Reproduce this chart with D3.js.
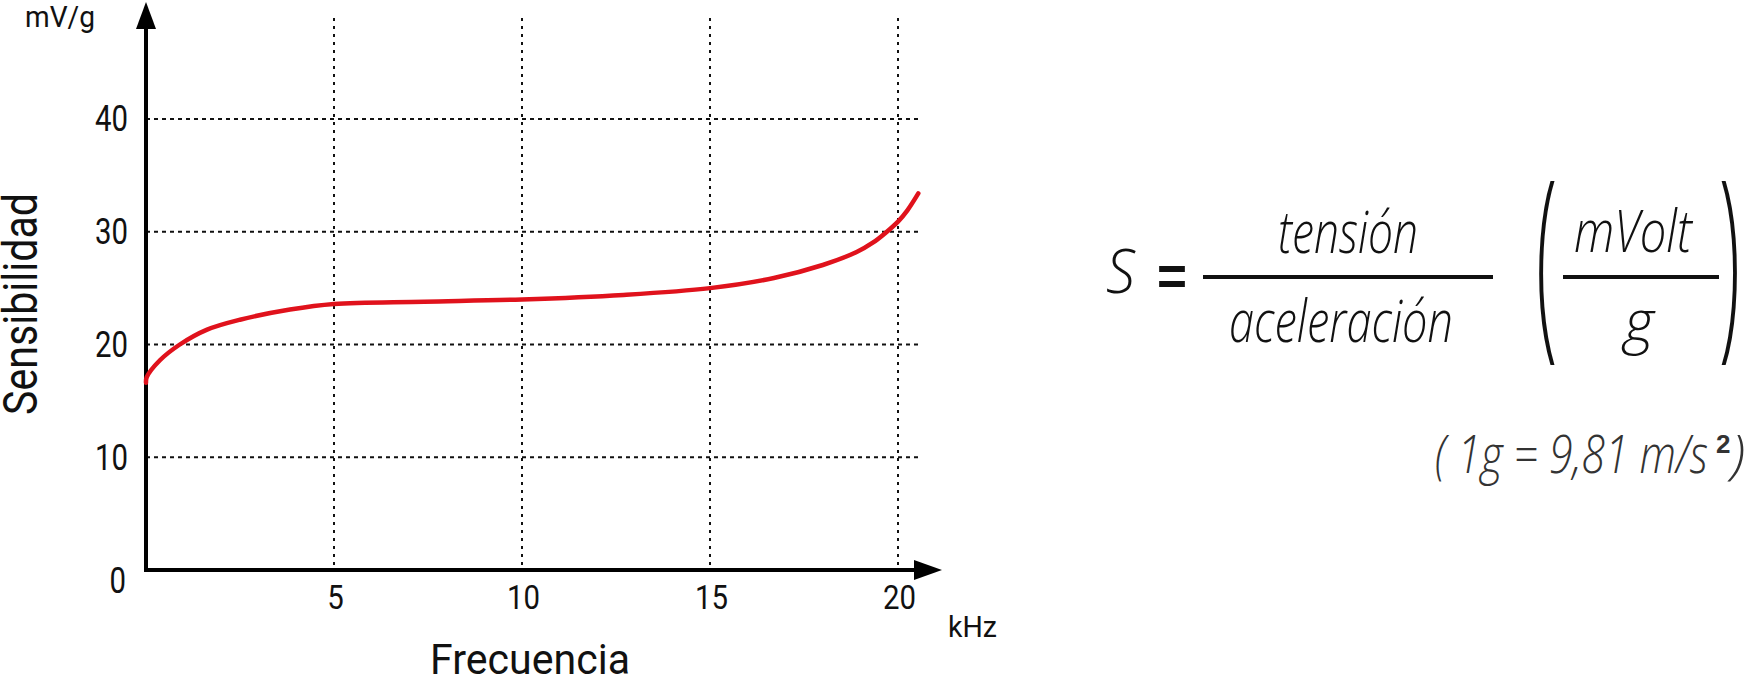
<!DOCTYPE html>
<html>
<head>
<meta charset="utf-8">
<script src="https://cdn.jsdelivr.net/npm/d3@7"></script>
<style>
  html, body { margin: 0; padding: 0; background: #fff; }
  svg { display: block; }
</style>
</head>
<body>
<svg id="chart" width="1746" height="680"></svg>
<script>
// ---- data ----
const freqKHz = [0, 0.02, 0.37, 0.9, 1.61, 2.5, 3.83, 5, 7.4, 10, 12.7, 15, 16.7, 18, 18.9, 19.34, 19.65, 20, 20.25, 20.54];
const sensitivity = [16.6, 17.1, 18.6, 20.0, 21.3, 22.2, 23.1, 23.6, 23.8, 24.0, 24.4, 25.0, 25.9, 27.05, 28.2, 29.05, 29.85, 30.9, 31.9, 33.4];
const xTicks = [5, 10, 15, 20];
const yTicks = [0, 10, 20, 30, 40];
const xGrid = [5, 10, 15, 20];
const yGrid = [10, 20, 30, 40];
const labels = { yUnit: "mV/g", xUnit: "kHz", yTitle: "Sensibilidad", xTitle: "Frecuencia" };
const formula = { lhs: "S", eq: "=", num: "tensión", den: "aceleración", unitNum: "mVolt", unitDen: "g", note: "( 1g = 9,81 m/s", noteSup: "2", noteEnd: ")" };

// ---- setup ----
const svg = d3.select("#chart");
const labelFont = "Roboto, 'Liberation Sans', sans-serif";
const formulaFontFamily = "'Open Sans', 'Liberation Sans', sans-serif";

const x = d3.scaleLinear().domain([0, 20]).range([146, 898]);
const y = d3.scaleLinear().domain([0, 40]).range([570, 119]);

// ---- grid ----
svg.append("g").selectAll("line").data(yGrid).join("line")
  .attr("x1", x(0)).attr("x2", 922)
  .attr("y1", d => y(d)).attr("y2", d => y(d))
  .attr("stroke", "#111").attr("stroke-width", 2).attr("stroke-dasharray", "4,4");

svg.append("g").selectAll("line").data(xGrid).join("line")
  .attr("x1", d => x(d)).attr("x2", d => x(d))
  .attr("y1", 18).attr("y2", y(0))
  .attr("stroke", "#111").attr("stroke-width", 2).attr("stroke-dasharray", "3,5");

// ---- axes ----
const digitW = 16.5;
const yAxis = d3.axisLeft(y).tickValues(yTicks).tickSize(0).tickPadding(18).tickFormat(d3.format("d"));
const gy = svg.append("g").attr("transform", `translate(${x(0)},0)`).call(yAxis);
gy.select(".domain").remove();
gy.selectAll("text").attr("font-family", labelFont).attr("font-size", 37).attr("fill", "#111")
  .attr("textLength", d => String(d).length * digitW).attr("lengthAdjust", "spacingAndGlyphs");
gy.selectAll(".tick").filter(d => d === 0).select("text").attr("dy", "0.62em").attr("x", -20);

const xAxis = d3.axisBottom(x).tickValues(xTicks).tickSize(0).tickPadding(15).tickFormat(d3.format("d"));
const gx = svg.append("g").attr("transform", `translate(0,${y(0)})`).call(xAxis);
gx.select(".domain").remove();
gx.selectAll("text").attr("font-family", labelFont).attr("font-size", 34).attr("fill", "#111").attr("dx", 1)
  .attr("textLength", d => String(d).length * digitW).attr("lengthAdjust", "spacingAndGlyphs");

// axis lines with arrows
svg.append("line").attr("x1", x(0)).attr("x2", x(0)).attr("y1", y(0) + 2).attr("y2", 26)
  .attr("stroke", "#000").attr("stroke-width", 4);
svg.append("path").attr("d", `M${x(0)},2 L${x(0) - 10},29 L${x(0) + 10},29 Z`).attr("fill", "#000");
svg.append("line").attr("x1", x(0) - 2).attr("x2", 916).attr("y1", y(0)).attr("y2", y(0))
  .attr("stroke", "#000").attr("stroke-width", 4);
svg.append("path").attr("d", `M942,${y(0)} L914,${y(0) - 10} L914,${y(0) + 10} Z`).attr("fill", "#000");

// ---- curve ----
const pts = freqKHz.map((f, i) => [f, sensitivity[i]]);
svg.append("path").datum(pts)
  .attr("d", d3.line().x(d => x(d[0])).y(d => y(d[1])).curve(d3.curveCatmullRom.alpha(0.5)))
  .attr("fill", "none").attr("stroke", "#e0121c").attr("stroke-width", 4.5).attr("stroke-linecap", "round");

// ---- axis labels ----
svg.append("text").text(labels.yUnit).attr("x", 25).attr("y", 27)
  .attr("font-family", labelFont).attr("font-size", 30).attr("fill", "#111")
  .attr("textLength", 70).attr("lengthAdjust", "spacingAndGlyphs");
svg.append("text").text(labels.xUnit).attr("x", 948).attr("y", 637)
  .attr("font-family", labelFont).attr("font-size", 30).attr("fill", "#111")
  .attr("textLength", 49).attr("lengthAdjust", "spacingAndGlyphs");
svg.append("text").text(labels.xTitle).attr("x", 430).attr("y", 674)
  .attr("font-family", labelFont).attr("font-size", 43).attr("fill", "#111")
  .attr("textLength", 200).attr("lengthAdjust", "spacingAndGlyphs");
svg.append("text").text(labels.yTitle)
  .attr("transform", "translate(37,415) rotate(-90)")
  .attr("font-family", labelFont).attr("font-size", 48).attr("fill", "#111")
  .attr("textLength", 222).attr("lengthAdjust", "spacingAndGlyphs");

// ---- formula ----
function ftext(str, opts) {
  const t = svg.append("text").text(str)
    .attr("font-family", opts.family || formulaFontFamily)
    .attr("font-size", opts.size)
    .attr("font-style", opts.style || "italic")
    .attr("font-weight", opts.weight || 300)
    .attr("fill", opts.fill || "#111")
    .attr("x", opts.x).attr("y", opts.y);
  if (opts.len) t.attr("textLength", opts.len).attr("lengthAdjust", "spacingAndGlyphs");
  if (opts.transform) t.attr("transform", opts.transform);
  if (opts.anchor) t.attr("text-anchor", opts.anchor);
  return t;
}
ftext(formula.lhs, { x: 1106, y: 293, size: 60, len: 29 });
ftext(formula.eq, { x: 1157, y: 295, size: 56, len: 30, style: "normal", weight: 700, family: "'Liberation Sans', sans-serif" });
svg.append("line").attr("x1", 1203).attr("x2", 1493).attr("y1", 277).attr("y2", 277).attr("stroke", "#111").attr("stroke-width", 4);
ftext(formula.num, { x: 1278, y: 253, size: 58, len: 140 });
ftext(formula.den, { x: 1229, y: 342, size: 58, len: 224 });
// big parentheses
ftext("(", { x: 0, y: 0, size: 62, style: "normal", weight: 300, transform: "translate(1536,332) scale(1.25,3.4)" });
ftext(")", { x: 0, y: 0, size: 62, style: "normal", weight: 300, transform: "translate(1719,332) scale(1.25,3.4)" });
svg.append("line").attr("x1", 1563).attr("x2", 1719).attr("y1", 277).attr("y2", 277).attr("stroke", "#111").attr("stroke-width", 4);
ftext(formula.unitNum, { x: 1574, y: 252, size: 58, len: 118 });
ftext(formula.unitDen, { x: 1624, y: 342, size: 58, len: 30 });
// note
ftext(formula.note, { x: 1435, y: 473, size: 54, len: 273, fill: "#333" });
ftext(formula.noteSup, { x: 1716, y: 453, size: 26, style: "normal", weight: 700, fill: "#333", family: "'Liberation Sans', sans-serif" });
ftext(formula.noteEnd, { x: 1731, y: 473, size: 54, fill: "#333" });
</script>
</body>
</html>
